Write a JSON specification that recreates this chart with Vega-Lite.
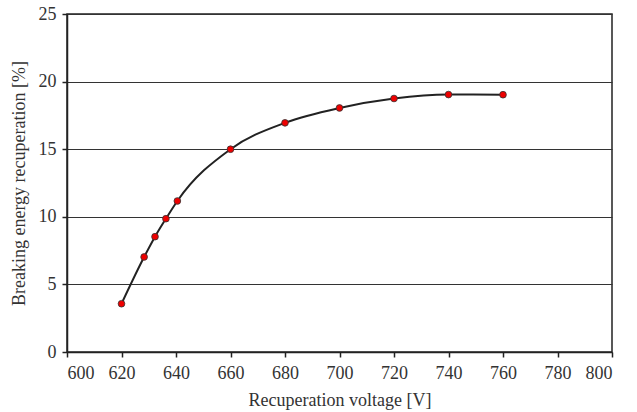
{
  "$schema": "https://vega.github.io/schema/vega-lite/v6.json",
  "width": 545,
  "height": 338,
  "autosize": {"type": "none"},
  "padding": {"left": 67, "top": 14, "right": 25, "bottom": 60},
  "background": "white",
  "config": {
    "view": {"stroke": "#222", "strokeWidth": 1.5},
    "font": "Liberation Serif",
    "axis": {
      "labelFont": "Liberation Serif",
      "titleFont": "Liberation Serif",
      "labelFontSize": 18,
      "titleFontSize": 18,
      "titleFontWeight": "normal",
      "labelColor": "#333",
      "titleColor": "#333",
      "domainColor": "#222",
      "domainWidth": 1.5,
      "tickColor": "#222",
      "tickWidth": 1.5,
      "tickSize": 5
    }
  },
  "data": {
    "values": [
      {"v": 620, "e": 3.57},
      {"v": 628.3, "e": 7.03},
      {"v": 632.3, "e": 8.53},
      {"v": 636.3, "e": 9.86},
      {"v": 640.5, "e": 11.17},
      {"v": 660, "e": 15.0},
      {"v": 680, "e": 16.95},
      {"v": 700, "e": 18.05},
      {"v": 720, "e": 18.75},
      {"v": 740, "e": 19.04},
      {"v": 760, "e": 19.03}
    ]
  },
  "encoding": {
    "x": {
      "field": "v", "type": "quantitative",
      "scale": {"domain": [600, 800], "nice": false, "zero": false},
      "axis": {"values": [600, 620, 640, 660, 680, 700, 720, 740, 760, 780, 800], "grid": false, "title": "Recuperation voltage [V]", "labelPadding": 7, "titlePadding": 9}
    },
    "y": {
      "field": "e", "type": "quantitative",
      "scale": {"domain": [0, 25], "nice": false},
      "axis": {"values": [0, 5, 10, 15, 20, 25], "grid": true, "gridColor": "#333", "gridWidth": 1.2, "gridOpacity": 1, "title": "Breaking energy recuperation [%]", "labelPadding": 6, "titlePadding": 10}
    }
  },
  "layer": [
    {"mark": {"type": "line", "interpolate": "monotone", "color": "#222", "strokeWidth": 2}},
    {"mark": {"type": "point", "filled": true, "fill": "#ee0000", "stroke": "#333", "strokeWidth": 0.8, "size": 45, "opacity": 1}}
  ]
}
